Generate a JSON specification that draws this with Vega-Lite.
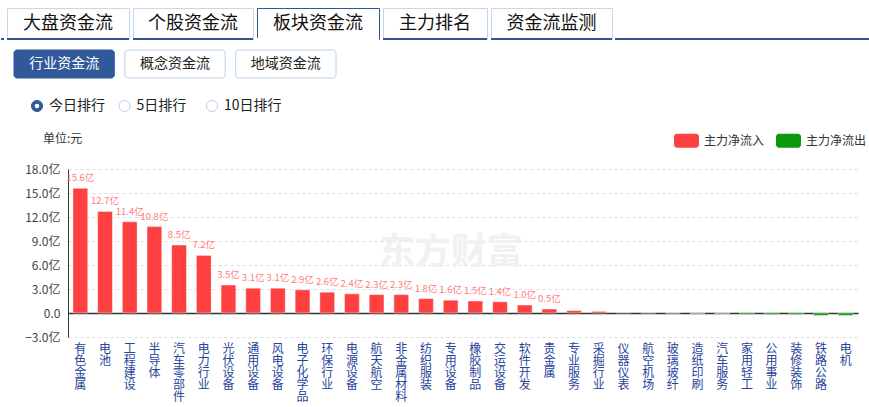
{
  "$schema": "https://vega.github.io/schema/vega-lite/v6.json",
  "padding": {"top": 7, "left": 0, "right": 0, "bottom": 0},
  "background": "white",
  "spacing": 8,
  "config": {
    "view": {"stroke": null},
    "font": "Noto Sans CJK SC",
    "text": {"font": "Noto Sans CJK SC"}
  },
  "vconcat": [
    {
      "spacing": 0,
      "hconcat": [
        {
          "width": 3, "height": 31,
          "data": {"values": [{}]},
          "mark": {"type": "rule", "color": "#2e5795", "strokeWidth": 2},
          "encoding": {"y": {"datum": 0, "type": "quantitative", "scale": {"domain": [0, 1]}, "axis": null}}
        },
        {
          "width": 122, "height": 31,
          "view": {"stroke": "#c5d8ec", "fill": "white"},
          "data": {"values": [{"t": "大盘资金流"}]},
          "layer": [
            {"mark": {"type": "text", "fontSize": 18, "color": "#111"}, "encoding": {"text": {"field": "t"}}},
            {"mark": {"type": "rule", "color": "#2e5795", "strokeWidth": 2}, "encoding": {"y": {"datum": 0, "type": "quantitative", "scale": {"domain": [0, 1]}, "axis": null}}}
          ]
        },
        {
          "width": 120, "height": 31,
          "view": {"stroke": "#c5d8ec", "fill": "white"},
          "data": {"values": [{"t": "个股资金流"}]},
          "layer": [
            {"mark": {"type": "text", "fontSize": 18, "color": "#111"}, "encoding": {"text": {"field": "t"}}},
            {"mark": {"type": "rule", "color": "#2e5795", "strokeWidth": 2}, "encoding": {"y": {"datum": 0, "type": "quantitative", "scale": {"domain": [0, 1]}, "axis": null}}}
          ]
        },
        {
          "width": 122, "height": 31,
          "view": {"stroke": "#2e5795", "fill": "white"},
          "data": {"values": [{"t": "板块资金流"}]},
          "layer": [
            {"mark": {"type": "text", "fontSize": 18, "color": "#111"}, "encoding": {"text": {"field": "t"}}},
            {"mark": {"type": "rule", "color": "white", "strokeWidth": 2}, "encoding": {"y": {"datum": 0, "type": "quantitative", "scale": {"domain": [0, 1]}, "axis": null}}}
          ]
        },
        {
          "width": 104, "height": 31,
          "view": {"stroke": "#c5d8ec", "fill": "white"},
          "data": {"values": [{"t": "主力排名"}]},
          "layer": [
            {"mark": {"type": "text", "fontSize": 18, "color": "#111"}, "encoding": {"text": {"field": "t"}}},
            {"mark": {"type": "rule", "color": "#2e5795", "strokeWidth": 2}, "encoding": {"y": {"datum": 0, "type": "quantitative", "scale": {"domain": [0, 1]}, "axis": null}}}
          ]
        },
        {
          "width": 121, "height": 31,
          "view": {"stroke": "#c5d8ec", "fill": "white"},
          "data": {"values": [{"t": "资金流监测"}]},
          "layer": [
            {"mark": {"type": "text", "fontSize": 18, "color": "#111"}, "encoding": {"text": {"field": "t"}}},
            {"mark": {"type": "rule", "color": "#2e5795", "strokeWidth": 2}, "encoding": {"y": {"datum": 0, "type": "quantitative", "scale": {"domain": [0, 1]}, "axis": null}}}
          ]
        },
        {
          "width": 277, "height": 31,
          "data": {"values": [{}]},
          "mark": {"type": "rule", "color": "#2e5795", "strokeWidth": 2},
          "encoding": {"y": {"datum": 0, "type": "quantitative", "scale": {"domain": [0, 1]}, "axis": null}}
        }
      ]
    },
    {
      "width": 869, "height": 28,
      "data": {"values": [
        {"b": "行业资金流", "s": true},
        {"b": "概念资金流", "s": false},
        {"b": "地域资金流", "s": false}
      ]},
      "encoding": {"x": {"field": "b", "type": "nominal", "sort": null, "scale": {"range": [13, 335], "paddingInner": 0.095, "paddingOuter": 0}, "axis": null}},
      "layer": [
        {"mark": {"type": "rect", "cornerRadius": 3, "strokeWidth": 1},
         "encoding": {
           "fill": {"condition": {"test": "datum.s", "value": "#31599a"}, "value": "white"},
           "stroke": {"condition": {"test": "datum.s", "value": "#31599a"}, "value": "#bcd2ea"}
         }},
        {"mark": {"type": "text", "fontSize": 14},
         "encoding": {
           "text": {"field": "b"},
           "color": {"condition": {"test": "datum.s", "value": "white"}, "value": "#222"}
         }}
      ]
    },
    {
      "width": 869, "height": 38,
      "data": {"values": [
        {"r": "今日排行", "s": true},
        {"r": "5日排行", "s": false},
        {"r": "10日排行", "s": false}
      ]},
      "encoding": {"x": {"field": "r", "type": "nominal", "sort": null, "scale": {"type": "point", "range": [36, 211], "padding": 0}, "axis": null}},
      "layer": [
        {"mark": {"type": "point", "shape": "circle", "filled": true, "size": 123, "strokeWidth": 1, "opacity": 1},
         "encoding": {
           "fill": {"condition": {"test": "datum.s", "value": "#31599a"}, "value": "white"},
           "stroke": {"condition": {"test": "datum.s", "value": "#31599a"}, "value": "#b9cfe8"}
         }},
        {"transform": [{"filter": "datum.s"}],
         "mark": {"type": "point", "shape": "circle", "filled": true, "size": 20, "color": "white", "opacity": 1}},
        {"mark": {"type": "text", "align": "left", "dx": 12, "fontSize": 14, "color": "#222"},
         "encoding": {"text": {"field": "r"}}}
      ]
    },
    {
      "width": 869, "height": 168,
      "title": {"text": "单位:元", "anchor": "start", "frame": "group", "dx": 42, "offset": 17, "fontSize": 12, "fontWeight": "normal", "color": "#333", "font": "Noto Sans CJK SC"},
      "data": {"values": [
        {"name": "有色金属", "value": 15.6, "dir": "主力净流入", "lab": "15.6亿"},
        {"name": "电池", "value": 12.7, "dir": "主力净流入", "lab": "12.7亿"},
        {"name": "工程建设", "value": 11.4, "dir": "主力净流入", "lab": "11.4亿"},
        {"name": "半导体", "value": 10.8, "dir": "主力净流入", "lab": "10.8亿"},
        {"name": "汽车零部件", "value": 8.5, "dir": "主力净流入", "lab": "8.5亿"},
        {"name": "电力行业", "value": 7.2, "dir": "主力净流入", "lab": "7.2亿"},
        {"name": "光伏设备", "value": 3.5, "dir": "主力净流入", "lab": "3.5亿"},
        {"name": "通用设备", "value": 3.1, "dir": "主力净流入", "lab": "3.1亿"},
        {"name": "风电设备", "value": 3.1, "dir": "主力净流入", "lab": "3.1亿"},
        {"name": "电子化学品", "value": 2.9, "dir": "主力净流入", "lab": "2.9亿"},
        {"name": "环保行业", "value": 2.6, "dir": "主力净流入", "lab": "2.6亿"},
        {"name": "电源设备", "value": 2.4, "dir": "主力净流入", "lab": "2.4亿"},
        {"name": "航天航空", "value": 2.3, "dir": "主力净流入", "lab": "2.3亿"},
        {"name": "非金属材料", "value": 2.3, "dir": "主力净流入", "lab": "2.3亿"},
        {"name": "纺织服装", "value": 1.8, "dir": "主力净流入", "lab": "1.8亿"},
        {"name": "专用设备", "value": 1.6, "dir": "主力净流入", "lab": "1.6亿"},
        {"name": "橡胶制品", "value": 1.5, "dir": "主力净流入", "lab": "1.5亿"},
        {"name": "交运设备", "value": 1.4, "dir": "主力净流入", "lab": "1.4亿"},
        {"name": "软件开发", "value": 1.0, "dir": "主力净流入", "lab": "1.0亿"},
        {"name": "贵金属", "value": 0.5, "dir": "主力净流入", "lab": "0.5亿"},
        {"name": "专业服务", "value": 0.3, "dir": "主力净流入"},
        {"name": "采掘行业", "value": 0.2, "dir": "主力净流入"},
        {"name": "仪器仪表", "value": 0.05, "dir": "主力净流入"},
        {"name": "航空机场", "value": 0.02, "dir": "主力净流入"},
        {"name": "玻璃玻纤", "value": -0.02, "dir": "主力净流出"},
        {"name": "造纸印刷", "value": -0.08, "dir": "主力净流出"},
        {"name": "汽车服务", "value": -0.1, "dir": "主力净流出"},
        {"name": "家用轻工", "value": -0.18, "dir": "主力净流出"},
        {"name": "公用事业", "value": -0.2, "dir": "主力净流出"},
        {"name": "装修装饰", "value": -0.2, "dir": "主力净流出"},
        {"name": "铁路公路", "value": -0.3, "dir": "主力净流出"},
        {"name": "电机", "value": -0.3, "dir": "主力净流出"}
      ]},
      "layer": [
        {
          "mark": {"type": "bar", "stroke": "white", "strokeOpacity": 0.45, "strokeWidth": 1},
          "encoding": {
            "x": {"field": "name", "type": "nominal", "sort": null,
                  "scale": {"range": [67, 857], "paddingInner": 0.4, "paddingOuter": 0.2},
                  "axis": {"title": null, "domain": false, "ticks": false, "labelAngle": 0,
                           "labelExpr": "split(datum.label, '')", "labelBaseline": "top",
                           "labelPadding": 6, "labelFontSize": 12, "labelLineHeight": 12,
                           "labelOverlap": false,
                           "labelColor": "#27449b", "labelFont": "Noto Sans CJK SC"}},
            "y": {"field": "value", "type": "quantitative",
                  "scale": {"domain": [-3, 18], "nice": false, "zero": false},
                  "axis": {"title": null, "offset": -67, "values": [-3, 0, 3, 6, 9, 12, 15, 18], "tickCount": 8,
                           "ticks": false, "tickSize": 0, "labelPadding": 8, "labelOverlap": false,
                           "labelFontSize": 12, "labelColor": "#444", "labelFont": "Noto Sans CJK SC",
                           "labelExpr": "datum.value == 0 ? '0.0' : format(datum.value, '.1f') + '亿'",
                           "domain": true, "domainColor": "#333",
                           "grid": true,
                           "gridColor": {"condition": {"test": "datum.value === 0", "value": "#333"}, "value": "#dddddd"},
                           "gridDash": {"condition": {"test": "datum.value === 0", "value": []}, "value": [3, 3]},
                           "gridWidth": {"condition": {"test": "datum.value === 0", "value": 1.3}, "value": 1}}},
            "color": {"field": "dir", "type": "nominal",
                      "scale": {"domain": ["主力净流入", "主力净流出"], "range": ["#ff4040", "#0b990b"]},
                      "legend": {"orient": "none", "legendX": 673, "legendY": 120, "direction": "horizontal",
                                 "title": null, "padding": 0,
                                 "symbolType": "M-0.76,-0.56 L0.76,-0.56 A0.24,0.24 0 0 1 1,-0.32 L1,0.32 A0.24,0.24 0 0 1 0.76,0.56 L-0.76,0.56 A0.24,0.24 0 0 1 -1,0.32 L-1,-0.32 A0.24,0.24 0 0 1 -0.76,-0.56 Z",
                                 "symbolSize": 625, "symbolStrokeWidth": 0, "symbolOpacity": 1,
                                 "labelFontSize": 12, "labelColor": "#333", "labelOffset": 5,
                                 "labelFont": "Noto Sans CJK SC", "columnPadding": 11}}
          }
        },
        {
          "transform": [{"filter": "isValid(datum.lab)"}],
          "mark": {"type": "text", "baseline": "bottom", "dy": -5, "fontSize": 9.5, "color": "#ff7b7b"},
          "encoding": {
            "x": {"field": "name", "type": "nominal", "sort": null},
            "y": {"field": "value", "type": "quantitative"},
            "text": {"field": "lab"}
          }
        },
        {
          "data": {"values": [{"name": "专用设备", "w": "东方财富"}]},
          "mark": {"type": "text", "fontSize": 36, "fontWeight": "bold", "color": "#f1f1f1"},
          "encoding": {
            "x": {"field": "name", "type": "nominal", "sort": null},
            "y": {"datum": 7.5, "type": "quantitative"},
            "text": {"field": "w"}
          }
        }
      ]
    }
  ]
}
